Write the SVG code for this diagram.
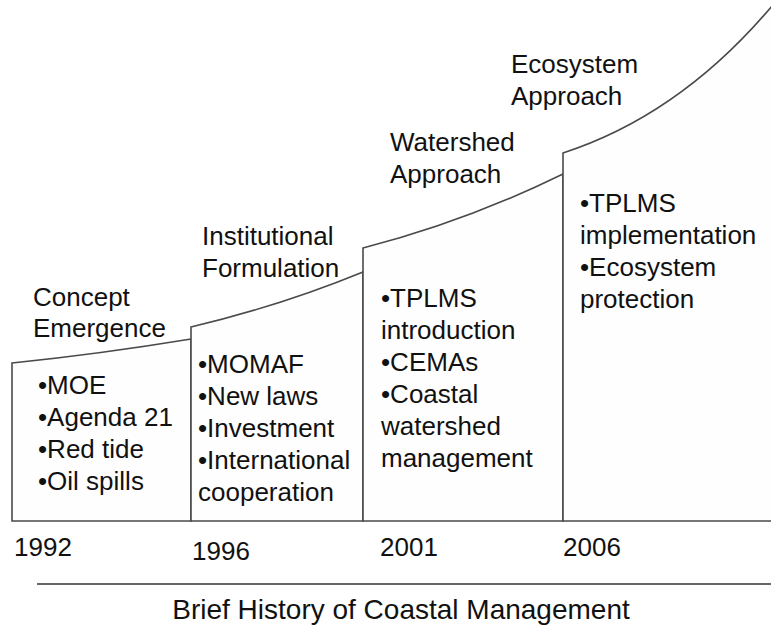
<svg xmlns="http://www.w3.org/2000/svg" width="771" height="629" viewBox="0 0 771 629">
  <style>
    .stage { fill: #fefefe; stroke: #4a4a4a; stroke-width: 1.6; stroke-linejoin: miter; }
    .t { font-family: "Liberation Sans", Arial, sans-serif; font-size: 26px; fill: #111; }
    .cap { font-family: "Liberation Sans", Arial, sans-serif; font-size: 28px; fill: #111; }
    .axis { stroke: #333; stroke-width: 1.6; }
  </style>
  <rect width="771" height="629" fill="#ffffff"/>

  <!-- Stage 1: 1992 -->
  <g id="stage-1992">
    <path class="stage" d="M12,521 L12,363 Q100,354 191,339 L191,521 Z"/>
    <text class="t" x="33" y="306">Concept</text>
    <text class="t" x="33" y="337">Emergence</text>
    <text class="t" x="38" y="394">•MOE</text>
    <text class="t" x="38" y="426">•Agenda 21</text>
    <text class="t" x="38" y="458">•Red tide</text>
    <text class="t" x="38" y="490">•Oil spills</text>
    <text class="t" x="14" y="556">1992</text>
  </g>

  <!-- Stage 2: 1996 -->
  <g id="stage-1996">
    <path class="stage" d="M191,521 L191,327 Q280,306 363,272 L363,521 Z"/>
    <text class="t" x="202" y="245">Institutional</text>
    <text class="t" x="202" y="277">Formulation</text>
    <text class="t" x="198" y="373">•MOMAF</text>
    <text class="t" x="198" y="405">•New laws</text>
    <text class="t" x="198" y="437">•Investment</text>
    <text class="t" x="198" y="469">•International</text>
    <text class="t" x="198" y="501">cooperation</text>
    <text class="t" x="192" y="560">1996</text>
  </g>

  <!-- Stage 3: 2001 -->
  <g id="stage-2001">
    <path class="stage" d="M363,521 L363,248 Q465,222 563,174 L563,521 Z"/>
    <text class="t" x="390" y="151">Watershed</text>
    <text class="t" x="390" y="183">Approach</text>
    <text class="t" x="381" y="307">•TPLMS</text>
    <text class="t" x="381" y="339">introduction</text>
    <text class="t" x="381" y="371">•CEMAs</text>
    <text class="t" x="381" y="403">•Coastal</text>
    <text class="t" x="381" y="435">watershed</text>
    <text class="t" x="381" y="467">management</text>
    <text class="t" x="380" y="556">2001</text>
  </g>

  <!-- Stage 4: 2006 -->
  <g id="stage-2006">
    <path class="stage" d="M772,521 L563,521 L563,153 Q680,115 772,6"/>
    <text class="t" x="511" y="73">Ecosystem</text>
    <text class="t" x="511" y="105">Approach</text>
    <text class="t" x="580" y="212">•TPLMS</text>
    <text class="t" x="580" y="244">implementation</text>
    <text class="t" x="580" y="276">•Ecosystem</text>
    <text class="t" x="580" y="308">protection</text>
    <text class="t" x="563" y="556">2006</text>
  </g>

  <!-- Time axis and caption -->
  <g id="axis">
    <line class="axis" x1="37" y1="584" x2="771" y2="584"/>
    <text class="cap" x="401" y="619" text-anchor="middle">Brief History of Coastal Management</text>
  </g>
</svg>
